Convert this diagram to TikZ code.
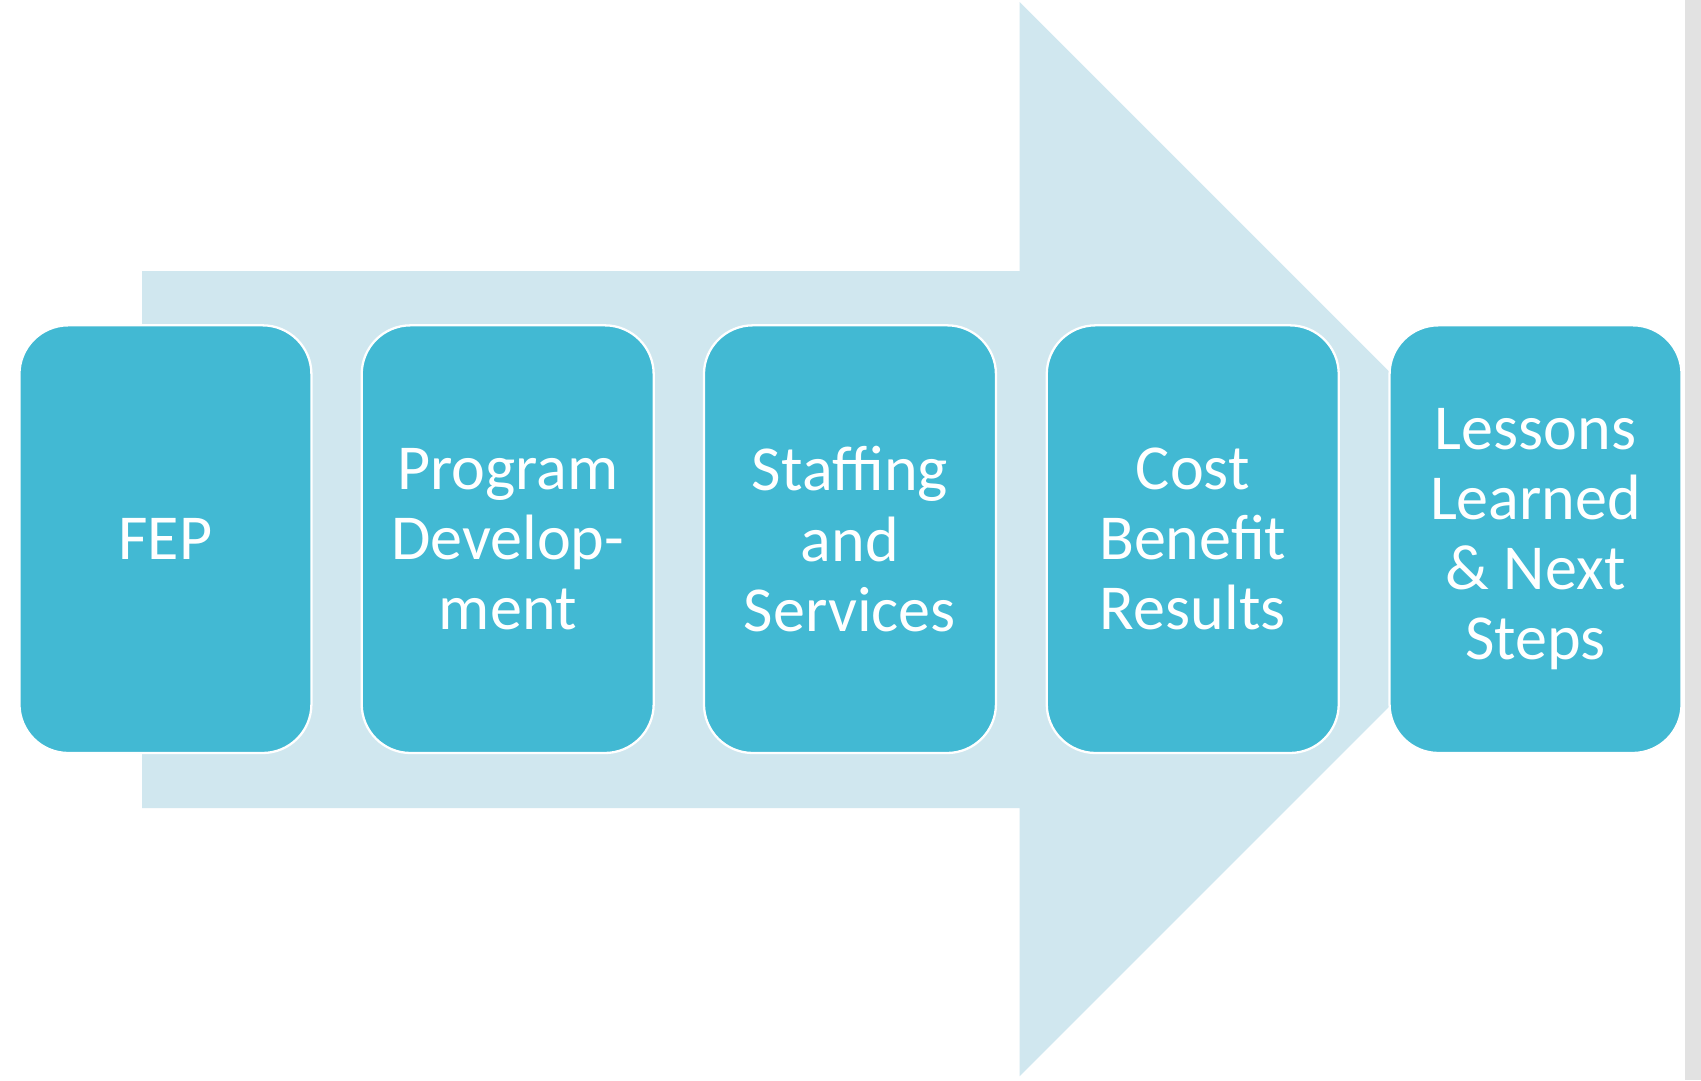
\documentclass[tikz,border=0pt]{standalone}
\usepackage{fontspec}
\setmainfont{Carlito}
\definecolor{arrowblue}{HTML}{D0E7EF}
\definecolor{boxblue}{HTML}{42B9D3}
\definecolor{sidegray}{HTML}{E2E2E2}
\begin{document}
\begin{tikzpicture}[x=0.01cm,y=-0.01cm,
  stagebox/.style={draw=white, line width=0.6pt, fill=boxblue, rounded corners=12.8pt,
    minimum width=2.69cm, minimum height=3.94cm, inner sep=0pt, text=white,
    align=center, font=\fontsize{16.8}{18.4}\selectfont}]
\useasboundingbox (0,0) rectangle (1568,996);
\fill[white] (0,0) rectangle (1568,996);
% side bar
\fill[sidegray] (1553,0) rectangle (1568,996);
% big arrow
\fill[arrowblue] (131,250) -- (940,250) -- (940,2) -- (1435,497) -- (940,992) -- (940,745) -- (131,745) -- cycle;
% stages
\node[stagebox] (fep) at (152.5,497) {FEP};
\node[stagebox] (prog) at (468,497) {Program\\Develop-\\ment};
\node[stagebox] (staff) at (783.5,497) {Staffing\\and\\Services};
\node[stagebox] (cost) at (1099.5,497) {Cost\\Benefit\\Results};
\node[stagebox] (less) at (1415.5,497) {Lessons\\Learned\\\& Next\\Steps};
\end{tikzpicture}
\end{document}
